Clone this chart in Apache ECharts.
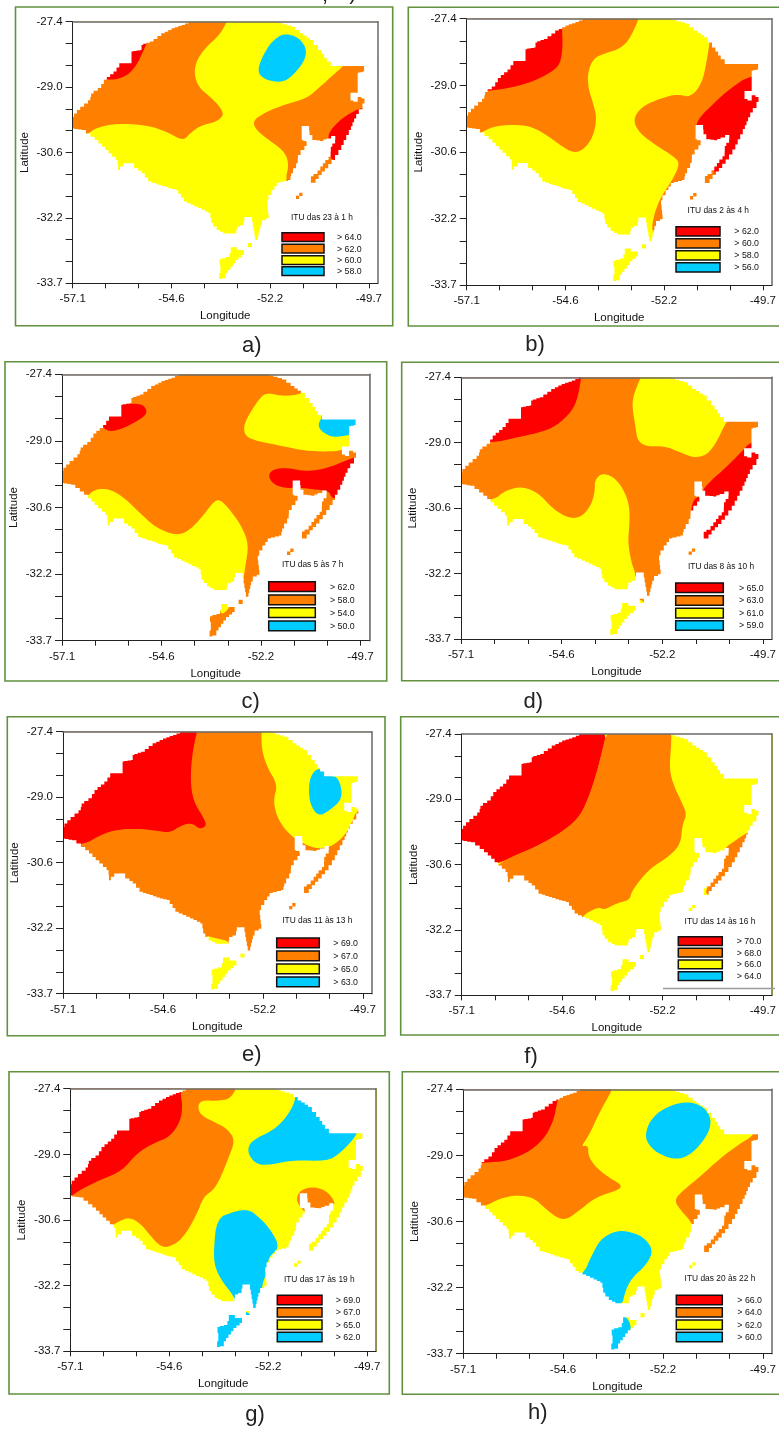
<!DOCTYPE html>
<html><head><meta charset="utf-8">
<style>html,body{margin:0;padding:0;background:#fff}#c{width:779px;height:1430px}</style>
<script src="https://cdn.jsdelivr.net/npm/echarts@6/dist/echarts.min.js"></script>
</head><body><div id="c"></div>
<script>
// ---------- tick values and labels ----------
const lonTicks=[-57.1,-56.278,-55.456,-54.633,-53.811,-52.989,-52.167,-51.344,-50.522,-49.7];
const lonLabelTicks=[-57.1,-54.633,-52.167,-49.7];
const lonLabels=['-57.1','-54.6','-52.2','-49.7'];
const latTicks=[-27.4,-27.925,-28.45,-28.975,-29.5,-30.025,-30.55,-31.075,-31.6,-32.125,-32.65,-33.175,-33.7];
const latLabelTicks=[-27.4,-28.975,-30.55,-32.125,-33.7];
const latLabels=['-27.4','-29.0','-30.6','-32.2','-33.7'];
const captions=['a)','b)','c)','d)','e)','f)','g)','h)'];
const legendTitles=['ITU das 23 à 1 h','ITU das 2 às 4 h','ITU das 5 às 7 h','ITU das 8 às 10 h','ITU das 11 às 13 h','ITU das 14 às 16 h','ITU das 17 às 19 h','ITU das 20 às 22 h'];
const legendValues=[[64,62,60,58],[62,60,58,56],[62,58,54,50],[65,63,61,59],[69,67,65,63],[70,68,66,64],[69,67,65,62],[66,64,62,60]];

// ---------- state outline (lon, lat) ----------
const stateOutline=[[-54.17,-27.4],[-52.02,-27.4],[-51.59,-27.52],[-51.38,-27.68],[-51.13,-27.84],[-50.92,-28.08],[-50.72,-28.36],[-50.59,-28.47],[-49.82,-28.47],[-49.82,-28.6],[-49.98,-28.63],[-49.98,-29.11],[-50.16,-29.11],[-50.16,-29.3],[-50.01,-29.33],[-49.95,-29.21],[-49.82,-29.25],[-49.8,-29.37],[-49.92,-29.51],[-50.05,-29.73],[-50.17,-30.01],[-50.3,-30.25],[-50.42,-30.49],[-50.59,-30.73],[-50.76,-30.93],[-50.92,-31.09],[-51.07,-31.28],[-51.15,-31.28],[-51.15,-31.12],[-51.02,-31.07],[-50.88,-30.89],[-50.76,-30.73],[-50.66,-30.65],[-50.65,-30.41],[-50.51,-30.25],[-50.57,-30.15],[-50.72,-30.21],[-50.88,-30.27],[-51.05,-30.25],[-51.18,-30.13],[-51.2,-29.91],[-51.38,-29.91],[-51.38,-30.25],[-51.23,-30.29],[-51.34,-30.49],[-51.47,-30.61],[-51.48,-30.81],[-51.63,-31.05],[-51.67,-31.21],[-51.97,-31.28],[-52.09,-31.45],[-52.25,-31.69],[-52.2,-32.14],[-52.34,-32.18],[-52.4,-32.3],[-52.49,-32.66],[-52.53,-32.66],[-52.59,-32.34],[-52.63,-32.1],[-52.8,-32.1],[-52.84,-32.3],[-52.99,-32.34],[-53.02,-32.5],[-53.3,-32.5],[-53.46,-32.42],[-53.63,-32.25],[-53.67,-32.01],[-53.92,-31.89],[-54.29,-31.73],[-54.5,-31.45],[-54.67,-31.41],[-54.92,-31.33],[-55.17,-31.25],[-55.34,-31.05],[-55.5,-30.93],[-55.63,-30.81],[-55.79,-30.81],[-55.96,-30.97],[-55.98,-30.73],[-56.25,-30.49],[-56.5,-30.25],[-56.71,-30.09],[-56.83,-30.01],[-57.1,-29.97],[-57.1,-29.69],[-56.96,-29.53],[-56.67,-29.29],[-56.63,-29.13],[-56.42,-29],[-56.29,-28.8],[-56.04,-28.6],[-55.9,-28.4],[-55.63,-28.4],[-55.63,-28.12],[-55.38,-28.08],[-55.38,-27.96],[-55.13,-27.88],[-54.84,-27.68],[-54.59,-27.56],[-54.34,-27.48]];
const southIsland=[[-53.15,-32.83],[-53,-32.83],[-53,-32.9],[-52.8,-32.9],[-52.84,-33.02],[-53,-33.14],[-53.13,-33.3],[-53.25,-33.46],[-53.3,-33.58],[-53.44,-33.6],[-53.44,-33.46],[-53.38,-33.34],[-53.44,-33.26],[-53.42,-33.12],[-53.22,-33.07],[-53.15,-32.97]];
const tinyCell=[[-52.72,-32.73],[-52.62,-32.73],[-52.62,-32.83],[-52.72,-32.83]];
const coastCells=[[-51.52,-31.67],[-51.52,-31.59],[-51.44,-31.59],[-51.44,-31.52],[-51.36,-31.52],[-51.36,-31.6],[-51.44,-31.6],[-51.44,-31.67]];

// ---------- panel a ----------
const aOrangeWest=[[-53.15,-27.2],[-53.42,-27.72],[-53.76,-28],[-54,-28.32],[-54.07,-28.64],[-53.96,-28.97],[-53.67,-29.21],[-53.42,-29.45],[-53.32,-29.65],[-53.51,-29.81],[-53.92,-29.91],[-54.17,-30.09],[-54.34,-30.27],[-54.75,-30.05],[-55.25,-29.89],[-56,-29.85],[-56.5,-29.95],[-56.73,-30.11],[-57.5,-30.5],[-57.5,-27.2]];
const aRedWest=[[-56.21,-28.79],[-56,-28.79],[-55.71,-28.68],[-55.5,-28.44],[-55.34,-28.12],[-55.2,-27.8],[-56.4,-28],[-56.5,-28.8]];
const aBlue=[[-51.84,-27.68],[-51.51,-27.75],[-51.3,-27.96],[-51.26,-28.2],[-51.38,-28.44],[-51.59,-28.68],[-51.84,-28.86],[-52.17,-28.83],[-52.42,-28.71],[-52.47,-28.52],[-52.34,-28.2],[-52.13,-27.88]];
const aOrangeEast=[[-50.34,-28.47],[-50.59,-28.68],[-50.92,-28.97],[-51.26,-29.25],[-51.76,-29.38],[-52.26,-29.57],[-52.59,-29.77],[-52.55,-29.97],[-52.26,-30.21],[-51.84,-30.49],[-51.69,-30.81],[-51.8,-31.25],[-51.5,-32],[-49,-32],[-49,-28.2],[-50.2,-28.3]];
const aRedEast=[[-49.88,-29.46],[-50.26,-29.65],[-50.51,-29.85],[-50.68,-30.05],[-50.72,-30.19],[-50.68,-30.65],[-50.57,-30.75],[-50,-30.8],[-49.5,-29.5]];
// ---------- panel b ----------
const bOrangeWest=[[-52.72,-27.2],[-52.99,-27.83],[-53.24,-28.1],[-53.65,-28.22],[-53.94,-28.34],[-54.08,-28.69],[-54.06,-29.05],[-53.94,-29.4],[-53.85,-29.75],[-53.94,-30.19],[-54.18,-30.5],[-54.43,-30.57],[-54.72,-30.42],[-55.04,-30.19],[-55.46,-29.95],[-55.95,-29.9],[-56.44,-29.95],[-56.73,-30.09],[-57.5,-30.4],[-57.5,-27.2]];
const bRedWest=[[-56.44,-29.1],[-55.95,-29.02],[-55.46,-28.89],[-54.96,-28.65],[-54.76,-28.46],[-54.7,-28.06],[-54.72,-27.63],[-54.72,-27.2],[-57,-27.2],[-57,-29.1]];
const bOrangeEast=[[-51.03,-27.94],[-51.1,-28.38],[-51.22,-28.93],[-51.51,-29.26],[-51.84,-29.18],[-52.25,-29.28],[-52.74,-29.48],[-52.95,-29.79],[-52.78,-30.11],[-52.33,-30.42],[-51.92,-30.66],[-51.77,-30.82],[-51.96,-31.21],[-52.25,-31.61],[-52.41,-32],[-52.48,-32.35],[-52.41,-32.51],[-51,-32.6],[-49,-32.6],[-49,-27.6],[-51,-27.6]];
const bRedEast=[[-50.01,-28.73],[-50.52,-29.05],[-50.93,-29.4],[-51.3,-29.75],[-51.39,-29.99],[-51.3,-30.27],[-51.14,-30.42],[-50.93,-30.94],[-50.89,-31.13],[-50,-31.2],[-49,-30],[-49,-28.73]];
// ---------- panel c ----------
const cYellowSouth=[[-56.53,-30.33],[-56.28,-30.11],[-55.91,-30.11],[-55.54,-30.33],[-55.16,-30.69],[-54.75,-31.04],[-54.25,-31.22],[-53.92,-31.08],[-53.59,-30.73],[-53.34,-30.41],[-53.18,-30.36],[-52.93,-30.61],[-52.64,-31],[-52.47,-31.43],[-52.55,-31.91],[-52.61,-32.3],[-52.64,-32.7],[-54.5,-32.75],[-57.5,-32],[-57.5,-30.33]];
const cRedWest=[[-56.06,-28.69],[-55.87,-28.76],[-55.49,-28.64],[-55.12,-28.44],[-54.98,-28.3],[-55.08,-28.12],[-55.33,-28.09],[-55.66,-28.11],[-55.9,-27.9],[-56.3,-28.4]];
const cYellowNorth=[[-52.06,-27.83],[-52.26,-28.05],[-52.47,-28.36],[-52.6,-28.64],[-52.55,-28.87],[-52.26,-28.98],[-51.77,-29.07],[-51.19,-29.19],[-50.69,-29.23],[-50.15,-29.21],[-49.8,-29],[-49.5,-28.5],[-50.3,-28],[-50.9,-27.6],[-51.1,-27.83],[-51.35,-27.9],[-51.68,-27.91]];
const cBlue=[[-50.65,-28.41],[-50.76,-28.6],[-50.65,-28.77],[-50.36,-28.9],[-49.99,-28.83],[-49.5,-28.8],[-49.5,-28.2],[-50.65,-28.2]];
const cRedEast=[[-49.66,-29.29],[-50.11,-29.46],[-50.53,-29.62],[-51.02,-29.7],[-51.52,-29.61],[-51.85,-29.64],[-51.99,-29.78],[-51.89,-29.98],[-51.6,-30.09],[-51.19,-30.08],[-50.77,-30.13],[-50.48,-30.16],[-50.42,-30.32],[-50.28,-30.33],[-49.5,-30.2]];
const cYellowIsland=[[-53.18,-32.76],[-52.93,-32.76],[-52.96,-32.95],[-53.18,-33.11]];
// ---------- panel d ----------
const dRedWest=[[-56.29,-28.97],[-55.83,-28.87],[-55.35,-28.77],[-54.86,-28.63],[-54.46,-28.31],[-54.26,-27.99],[-54.15,-27.41],[-54.15,-27.2],[-57.3,-27.2],[-57.3,-28.97]];
const dYellowNorth=[[-52.6,-27.2],[-52.85,-27.75],[-52.91,-28.07],[-52.83,-28.55],[-52.77,-28.95],[-52.52,-29.07],[-52.12,-29.05],[-51.72,-29.21],[-51.39,-29.34],[-51.07,-29.27],[-50.83,-28.95],[-50.61,-28.49],[-50.4,-28.2],[-50.4,-27.2]];
const dYellowSouth=[[-56.33,-30.38],[-55.99,-30.11],[-55.59,-30.03],[-55.19,-30.19],[-54.86,-30.56],[-54.46,-30.8],[-54.14,-30.76],[-53.91,-30.48],[-53.82,-30.15],[-53.82,-29.87],[-53.65,-29.71],[-53.37,-29.79],[-53.13,-30.07],[-52.97,-30.48],[-52.97,-30.96],[-53.01,-31.36],[-52.93,-31.84],[-52.81,-32.16],[-52.83,-32.48],[-53,-32.7],[-57.5,-32],[-57.5,-30.38]];
const dRedEast=[[-49.98,-28.93],[-50.26,-29.23],[-50.63,-29.59],[-50.95,-29.87],[-51.19,-30.11],[-51.11,-30.31],[-51.19,-31.24],[-51.1,-31.5],[-49.5,-31.5],[-49.5,-28.93]];
const dRedCoast=[[-51.38,-30.3],[-51.15,-30.25],[-51.27,-30.56],[-51.43,-30.72],[-51.47,-30.6]];
const dYellowIsland=[[-53.6,-32.72],[-52.5,-32.72],[-52.5,-33.7],[-53.6,-33.7]];
// ---------- panel e ----------
const eRedWest=[[-56.6,-30.13],[-56.19,-29.89],[-55.77,-29.75],[-55.2,-29.73],[-54.79,-29.78],[-54.46,-29.83],[-54.17,-29.65],[-53.92,-29.59],[-53.72,-29.75],[-53.55,-29.66],[-53.64,-29.45],[-53.88,-29.08],[-53.96,-28.56],[-53.9,-27.84],[-53.74,-27.2],[-57.5,-27.2],[-57.5,-30.13]];
const eYellowEast=[[-52.19,-27.2],[-52.21,-27.76],[-52.07,-28.24],[-51.8,-28.68],[-51.91,-29.04],[-51.82,-29.45],[-51.58,-29.81],[-51.25,-30.05],[-50.88,-30.21],[-50.51,-30.18],[-50.22,-29.97],[-50.01,-29.69],[-49.83,-29.22],[-49,-29.1],[-49,-27.2]];
const eBlue=[[-50.76,-28.26],[-50.96,-28.4],[-51.04,-28.72],[-51,-29.16],[-50.8,-29.43],[-50.55,-29.32],[-50.18,-29],[-50.3,-28.48],[-50.55,-28.47]];
const eYellowSliver=[[-53.62,-32.29],[-53.31,-32.37],[-52.98,-32.44],[-52.98,-32.7],[-53.72,-32.7]];
const eYellowIsland=[[-53.6,-32.6],[-52.4,-32.6],[-52.4,-33.7],[-53.6,-33.7]];
// ---------- panel f ----------
const fOrange=[[-53.5,-27.2],[-53.74,-28.19],[-53.94,-28.83],[-54.19,-29.39],[-54.63,-29.76],[-55.2,-30.08],[-55.77,-30.32],[-56.19,-30.52],[-56.6,-31],[-55,-32.3],[-54.3,-32.3],[-54.19,-31.81],[-53.74,-31.56],[-53.62,-31.65],[-53.26,-31.47],[-52.97,-31.4],[-52.93,-31.2],[-52.53,-30.68],[-51.96,-30.32],[-51.72,-30.04],[-51.68,-29.59],[-51.57,-29.35],[-51.68,-29.07],[-51.88,-28.67],[-52,-28.27],[-51.95,-27.63],[-51.95,-27.2]];
const fRed=[[-56.19,-30.52],[-55.77,-30.32],[-55.2,-30.08],[-54.63,-29.76],[-54.19,-29.39],[-53.94,-28.83],[-53.74,-28.19],[-53.5,-27.2],[-57.5,-27.2],[-57.5,-30.4],[-56.6,-30.6]];
const fOrangeStrip=[[-50.01,-29.73],[-50.34,-29.94],[-50.68,-30.18],[-50.71,-30.6],[-51.11,-31.12],[-51.07,-31.32],[-49.5,-31.3],[-49.5,-29.73]];
// ---------- panel g ----------
const gOrange=[[-52.9,-27.2],[-53.07,-27.63],[-53.45,-27.7],[-53.78,-27.67],[-53.93,-27.79],[-53.86,-28.03],[-53.53,-28.19],[-53.2,-28.35],[-52.99,-28.63],[-53.16,-29.07],[-53.36,-29.55],[-53.53,-29.83],[-53.78,-29.99],[-53.95,-30.43],[-54.32,-31.03],[-54.7,-31.22],[-54.9,-31.15],[-55.15,-30.87],[-55.36,-30.63],[-55.65,-30.47],[-56.03,-30.66],[-56.6,-31],[-57.5,-30],[-57.5,-27.2]];
const gRed=[[-57.09,-29.99],[-56.86,-29.83],[-56.36,-29.59],[-55.82,-29.38],[-55.44,-28.95],[-55.03,-28.71],[-54.61,-28.55],[-54.36,-28.19],[-54.3,-27.83],[-54.36,-27.47],[-54.3,-27.2],[-57.5,-27.2],[-57.5,-30]];
const gBlueNorth=[[-51.49,-27.7],[-51.7,-28.07],[-52.03,-28.39],[-52.45,-28.58],[-52.66,-28.75],[-52.66,-28.99],[-52.45,-29.22],[-52.12,-29.23],[-51.53,-29.11],[-50.7,-29.14],[-50.37,-28.95],[-49.91,-28.47],[-49.91,-28.1],[-51.49,-27.4]];
const gBlueSouth=[[-53.45,-30.51],[-53.03,-30.35],[-52.66,-30.29],[-52.36,-30.51],[-52.07,-30.83],[-51.88,-31.22],[-52.16,-31.43],[-52.2,-31.79],[-52.32,-32.11],[-52.35,-32.43],[-52.43,-32.71],[-52.95,-32.71],[-53.01,-32.39],[-53.28,-32.07],[-53.49,-31.71],[-53.53,-31.31]];
const gOrangeRing=[[-51.24,-30.39],[-51.47,-30.11],[-51.41,-29.87],[-51.12,-29.75],[-50.79,-29.81],[-50.58,-29.99],[-50.48,-30.21],[-50.95,-30.39]];
const gBlueIsland=[[-53.6,-32.72],[-52.5,-32.72],[-52.5,-33.7],[-53.6,-33.7]];
// ---------- panel h ----------
const hOrangeWest=[[-53.3,-27.2],[-53.72,-27.93],[-54.01,-28.53],[-54.19,-28.77],[-54.01,-28.73],[-54.01,-29],[-53.8,-29.28],[-53.47,-29.52],[-53.18,-29.68],[-53.26,-29.8],[-53.8,-29.96],[-54.21,-30.27],[-54.54,-30.51],[-54.79,-30.46],[-55.08,-30.23],[-55.36,-29.98],[-55.77,-29.92],[-56.19,-30],[-56.56,-30.19],[-57.5,-30.5],[-57.5,-27.2]];
const hRedWest=[[-56.56,-29.15],[-56.02,-29.11],[-55.53,-28.92],[-55.12,-28.61],[-54.87,-28.17],[-54.77,-27.69],[-54.7,-27.3],[-57.2,-27.3],[-57.2,-29.15]];
const hBlueNorth=[[-51.66,-27.69],[-51.25,-27.76],[-51,-28.01],[-50.99,-28.33],[-51.21,-28.69],[-51.5,-28.96],[-51.82,-29.08],[-52.24,-28.96],[-52.52,-28.73],[-52.61,-28.49],[-52.48,-28.13],[-52.15,-27.85]];
const hBlueSouth=[[-54.13,-31.81],[-53.92,-31.35],[-53.72,-30.99],[-53.39,-30.79],[-53.06,-30.77],[-52.65,-30.91],[-52.4,-31.23],[-52.57,-31.58],[-52.94,-31.9],[-53.1,-32.22],[-53.18,-32.58],[-53.9,-32.6],[-54.6,-32]];
const hBlueIsland=[[-53.12,-32.74],[-52.91,-33.09],[-53.14,-33.65],[-53.55,-33.65],[-53.55,-32.74]];
const hOrangeEast=[[-49.93,-28.5],[-50.26,-28.69],[-50.75,-29.04],[-51.25,-29.48],[-51.66,-29.8],[-51.89,-30.04],[-51.74,-30.27],[-51.41,-30.62],[-51.21,-31.35],[-51,-31.4],[-49.5,-31.4],[-49.5,-28.3],[-49.93,-28.3]];

const RED='#FF0000',ORANGE='#FF8000',YELLOW='#FFFF00',BLUE='#00CCFF';
const fullBox=[[-58,-27],[-49,-27],[-49,-34.5],[-58,-34.5]];

// what is painted in each panel, in painting order
const layers=[
 [[YELLOW,fullBox],[ORANGE,aOrangeWest],[ORANGE,aOrangeEast],[RED,aRedWest],[RED,aRedEast],[BLUE,aBlue]],
 [[YELLOW,fullBox],[ORANGE,bOrangeWest],[ORANGE,bOrangeEast],[RED,bRedWest],[RED,bRedEast]],
 [[ORANGE,fullBox],[YELLOW,cYellowSouth],[YELLOW,cYellowNorth],[YELLOW,cYellowIsland],[RED,cRedWest],[RED,cRedEast],[BLUE,cBlue]],
 [[ORANGE,fullBox],[YELLOW,dYellowNorth],[YELLOW,dYellowSouth],[YELLOW,dYellowIsland],[RED,dRedWest],[RED,dRedEast],[RED,dRedCoast]],
 [[ORANGE,fullBox],[YELLOW,eYellowEast],[YELLOW,eYellowSliver],[YELLOW,eYellowIsland],[RED,eRedWest],[BLUE,eBlue]],
 [[YELLOW,fullBox],[ORANGE,fOrange],[ORANGE,fOrangeStrip],[RED,fRed]],
 [[YELLOW,fullBox],[ORANGE,gOrange],[ORANGE,gOrangeRing],[RED,gRed],[BLUE,gBlueNorth],[BLUE,gBlueSouth],[BLUE,gBlueIsland]],
 [[YELLOW,fullBox],[ORANGE,hOrangeWest],[ORANGE,hOrangeEast],[RED,hRedWest],[BLUE,hBlueNorth],[BLUE,hBlueSouth],[BLUE,hBlueIsland]]
];

// ---------- page layout (pixels) ----------
const plots=[[72.7,21.7,377.7,283.3],[466.7,18.7,775.5,285.3],[62,374.3,369.3,640.7],[461,377.3,776,639],[63,731.7,371.7,993.7],[461.7,734,775.5,995.3],[70.3,1088.7,376,1351.3],[463,1089.3,772.7,1353.7]];
const frames=[[15.5,7,392.7,325.7],[408.3,7.3,800,326],[5,361.7,386.7,681],[401.7,362.3,800,680.7],[7.3,716.7,385,1035.7],[400.7,716.7,800,1035],[9,1071.7,389.3,1394],[402.3,1071.7,800,1394.3]];
const captionPos=[[251.7,346],[535,345],[250.7,701.7],[533.3,701.7],[251.7,1055],[531,1056.7],[255,1415],[537.7,1413]];
// title cx, title cy, swatch x0, x1, swatch h, label x, swatch tops
const legendPos=[
 [322,218,282,324,8.8,337,[232.7,244.3,255.7,266.8]],
 [718.3,210.7,676,720,9.3,734.3,[226.7,238.7,250.7,262.7]],
 [312.7,565,268.7,315.3,9.8,330,[581.7,595,607.7,621]],
 [721,566.7,675.7,723.3,9.6,739,[583,595.7,608.3,620.7]],
 [317.3,920.7,276.7,319.3,9.8,333.3,[938,951,964,977]],
 [720,921.3,678.3,722.3,8.8,736.7,[936.7,948.3,960,971.8]],
 [319.3,1279.3,277.3,322,9.4,335.7,[1295.3,1307.7,1320,1332.3]],
 [720,1278.7,676.3,722.3,9.4,737.3,[1295.3,1307.7,1320,1332.3]]
];
const swatchColors=[RED,ORANGE,YELLOW,BLUE];
const FONT='"Liberation Sans",Arial,sans-serif';
const LON_MAX=-49.48, LON_MIN=-57.1, LAT_MAX=-27.4, LAT_MIN=-33.7;

// rounds polygon corners in pixel space without moving the long runs outside the state
function rounded(pts){
  let cur=pts;
  [[0.25,9],[0.25,4]].forEach(([f,lim])=>{
    const out=[];
    cur.forEach((p,i)=>{
      const a=cur[(i-1+cur.length)%cur.length],b=cur[(i+1)%cur.length];
      const cut=(q)=>{const d=Math.hypot(q[0]-p[0],q[1]-p[1])||1;const t=Math.min(f,lim/d);return [p[0]+(q[0]-p[0])*t,p[1]+(q[1]-p[1])*t];};
      out.push(cut(a),cut(b));
    });
    cur=out;
  });
  return cur;
}
// the source is a raster: sloping outline runs are walked in cell-sized steps that straddle the line
function stairs(ring,cell){
  const out=[];
  ring.forEach((p,i)=>{
    const q=ring[(i+1)%ring.length];
    const dx=q[0]-p[0],dy=q[1]-p[1];
    out.push(p);
    if(Math.abs(dx)<1e-6||Math.abs(dy)<1e-6) return;
    const n=Math.max(1,Math.round(Math.max(Math.abs(dx),Math.abs(dy))/cell));
    for(let k=0;k<n;k++){
      const xm=p[0]+dx*(k+0.5)/n,y0=p[1]+dy*k/n,y1=p[1]+dy*(k+1)/n,x1=p[0]+dx*(k+1)/n;
      out.push([xm,y0],[xm,y1]);
      if(k<n-1) out.push([x1,y1]);
    }
  });
  return out;
}
function ringPath(pts,wantPositive){
  let area=0;
  pts.forEach((p,i)=>{const q=pts[(i+1)%pts.length];area+=p[0]*q[1]-q[0]*p[1];});
  const ordered=(area>0)===wantPositive?pts:pts.slice().reverse();
  return 'M'+ordered.map(p=>p[0].toFixed(1)+' '+p[1].toFixed(1)).join('L')+'Z';
}

const grids=[],xAxes=[],yAxes=[],series=[],graphics=[];
plots.forEach((r,i)=>{
  grids.push({left:r[0],top:r[1],width:r[2]-r[0],height:r[3]-r[1],show:false,containLabel:false});
  const lineDark={show:true,onZero:false,lineStyle:{color:'#222',width:1}};
  const lineGrey={show:true,onZero:false,lineStyle:{color:'#6a6a6a',width:1.5}};
  const lbl={color:'#111',fontSize:11.5,fontFamily:FONT,margin:10};
  xAxes.push({type:'value',gridIndex:i,position:'bottom',min:LON_MIN,max:LON_MAX,z:10,
    axisLine:lineDark,splitLine:{show:false},
    axisTick:{show:true,customValues:lonTicks,length:5,lineStyle:{color:'#222'}},
    axisLabel:Object.assign({customValues:lonLabelTicks,showMinLabel:true,showMaxLabel:true,hideOverlap:false,
      formatter:v=>lonLabels[lonLabelTicks.findIndex(t=>Math.abs(t-v)<1e-6)]},lbl),
    name:'Longitude',nameLocation:'middle',nameGap:27,nameTextStyle:{color:'#111',fontSize:11.5,fontFamily:FONT}});
  xAxes.push({type:'value',gridIndex:i,position:'top',min:LON_MIN,max:LON_MAX,z:10,axisLine:lineGrey,axisTick:{show:false},axisLabel:{show:false},splitLine:{show:false}});
  yAxes.push({type:'value',gridIndex:i,position:'left',min:LAT_MIN,max:LAT_MAX,z:10,
    axisLine:lineDark,splitLine:{show:false},
    axisTick:{show:true,customValues:latTicks,length:7,lineStyle:{color:'#222'}},
    axisLabel:Object.assign({customValues:latLabelTicks,showMinLabel:true,showMaxLabel:true,hideOverlap:false,
      formatter:v=>latLabels[latLabelTicks.findIndex(t=>Math.abs(t-v)<1e-6)]},lbl),
    name:'Latitude',nameLocation:'middle',nameGap:42,nameTextStyle:{color:'#111',fontSize:11.5,fontFamily:FONT}});
  yAxes.push({type:'value',gridIndex:i,position:'right',min:LAT_MIN,max:LAT_MAX,z:10,axisLine:lineGrey,axisTick:{show:false},axisLabel:{show:false},splitLine:{show:false}});

  const xi=i*2,yi=i*2;
  layers[i].forEach(([color,poly],li)=>{
    series.push({type:'custom',coordinateSystem:'cartesian2d',xAxisIndex:xi,yAxisIndex:yi,clip:true,silent:true,z:2,
      animation:false,data:poly,encode:{x:0,y:1},
      renderItem:(params,api)=>{
        if(params.dataIndex!==0) return null;
        const px=poly.map(p=>api.coord(p));
        return {type:'polygon',shape:{points:li===0?px:rounded(px)},style:{fill:color}};
      }});
  });
  // white paint outside the state, with the state's outline as holes
  const rings=[stateOutline,southIsland,tinyCell,coastCells];
  series.push({type:'custom',coordinateSystem:'cartesian2d',xAxisIndex:xi,yAxisIndex:yi,clip:true,silent:true,z:3,
    animation:false,data:stateOutline,encode:{x:0,y:1},
    renderItem:(params,api)=>{
      if(params.dataIndex!==0) return null;
      const c=params.coordSys;
      let d=ringPath([[c.x,c.y],[c.x+c.width,c.y],[c.x+c.width,c.y+c.height],[c.x,c.y+c.height]],true);
      rings.forEach((ring,ri)=>{
        const stepped=ri<2?stairs(ring,0.1):ring;
        d+=ringPath(stepped.map(p=>api.coord(p)),false);
      });
      return {type:'path',shape:{pathData:d},style:{fill:'#fff'}};
    }});

  const f=frames[i];
  graphics.push({type:'rect',z:20,shape:{x:f[0],y:f[1],width:f[2]-f[0],height:f[3]-f[1]},style:{fill:'none',stroke:'#62913f',lineWidth:1.6},silent:true});
  const cp=captionPos[i];
  graphics.push({type:'text',z:20,x:cp[0],y:cp[1],style:{text:captions[i],fontSize:22,fontFamily:FONT,fill:'#222',align:'center',verticalAlign:'middle'}});
  const lp=legendPos[i];
  graphics.push({type:'text',z:20,x:lp[0],y:lp[1],style:{text:legendTitles[i],fontSize:8.4,fontFamily:FONT,fill:'#111',align:'center',verticalAlign:'middle'}});
  lp[6].forEach((top,k)=>{
    graphics.push({type:'rect',z:20,shape:{x:lp[2],y:top,width:lp[3]-lp[2],height:lp[4]},style:{fill:swatchColors[k],stroke:'#111',lineWidth:1.5}});
    graphics.push({type:'text',z:20,x:lp[5],y:top+lp[4]/2+0.5,style:{text:'> '+legendValues[i][k].toFixed(1),fontSize:8.8,fontFamily:FONT,fill:'#111',align:'left',verticalAlign:'middle'}});
  });
});
// grey edge of the legend box in panel f
graphics.push({type:'line',z:20,shape:{x1:663,y1:988.5,x2:775,y2:988.5},style:{stroke:'#9a9a9a',lineWidth:1.5}});
// tails of the cropped caption above the figure
graphics.push({type:'text',z:20,x:325,y:-5,style:{text:',',fontSize:22,fontFamily:FONT,fill:'#222',align:'center',verticalAlign:'middle'}});
graphics.push({type:'text',z:20,x:353,y:-7,style:{text:')',fontSize:22,fontFamily:FONT,fill:'#222',align:'center',verticalAlign:'middle'}});

const chart=echarts.init(document.getElementById('c'),null,{renderer:'canvas'});
chart.setOption({animation:false,backgroundColor:'#fff',grid:grids,xAxis:xAxes,yAxis:yAxes,series:series,graphic:{elements:graphics},tooltip:{show:false}});
</script></body></html>
